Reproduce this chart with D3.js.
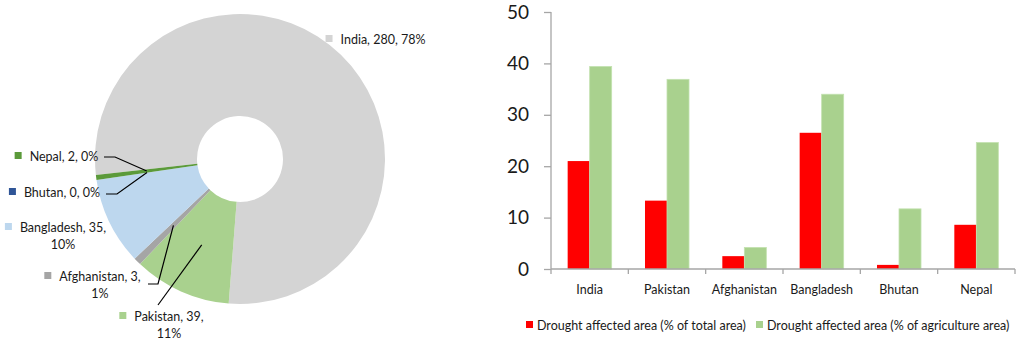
<!DOCTYPE html>
<html>
<head>
<meta charset="utf-8">
<script src="https://cdn.jsdelivr.net/npm/d3@7"></script>
<style>
  body { margin: 0; background: #fff; }
  svg { display: block; font-family: Lato, "Open Sans", sans-serif; }
</style>
</head>
<body>
<div class="container"></div>
<script>
var WIDTH = 1021, HEIGHT = 341;

// donut data
var pieCountries = ["India", "Pakistan", "Afghanistan", "Bangladesh", "Bhutan", "Nepal"];
var pieValues = [280, 39, 3, 35, 0, 2];
var piePercents = ["78%", "11%", "1%", "10%", "0%", "0%"];
var pieColors = ["#d4d4d4", "#a9d18e", "#a5a5a5", "#bdd7ee", "#2f5597", "#5b9a3a"];

// bar data
var barCategories = ["India", "Pakistan", "Afghanistan", "Bangladesh", "Bhutan", "Nepal"];
var totalArea = [21.0, 13.3, 2.5, 26.5, 0.8, 8.6];
var agriArea = [39.4, 36.9, 4.2, 34.0, 11.7, 24.6];
var seriesNames = ["Drought affected area (% of total area)", "Drought affected area (% of agriculture area)"];
var seriesColors = ["#ff0000", "#a9d18e"];
var yTicks = [0, 10, 20, 30, 40, 50];

var svg = d3.select('.container').append('svg')
    .attr('width', WIDTH)
    .attr('height', HEIGHT);

// ---------- donut ----------
var CX = 240, CY = 159, R = 145, R_IN = 43;
var startA = -96.3 * Math.PI / 180;

var pie = d3.pie().sort(null).value(function(d){ return d; })
    .startAngle(startA).endAngle(startA + 2 * Math.PI);
var arcs = pie(pieValues);
var arc = d3.arc().innerRadius(R_IN).outerRadius(R);
var midArc = d3.arc().innerRadius((R + R_IN) / 2).outerRadius((R + R_IN) / 2);

var gPie = svg.append('g').attr('transform', 'translate(' + CX + ',' + CY + ')');
gPie.selectAll('path').data(arcs).enter().append('path')
    .attr('d', arc)
    .attr('fill', function(d, i){ return pieColors[i]; });

// label placement: center x of text block, baseline of first line, line split, leader elbow
var labelLayout = [
  {cx: 383, y: 44, split: false, elbow: null},
  {cx: 169, y: 321, split: true, elbow: [[158, 305]]},
  {cx: 100, y: 281, split: true, elbow: [[148, 284], [158, 284]]},
  {cx: 63, y: 232, split: true, elbow: null},
  {cx: 62, y: 197, split: false, elbow: [[106, 194], [117, 194]]},
  {cx: 64, y: 161, split: false, elbow: [[104, 157], [115, 157]]}
];

var gLab = svg.append('g').attr('font-size', 12.5).attr('fill', '#1a1a1a');
arcs.forEach(function(a, i){
  var L = labelLayout[i];
  var lines = L.split
      ? [pieCountries[i] + ", " + pieValues[i] + ",", piePercents[i]]
      : [pieCountries[i] + ", " + pieValues[i] + ", " + piePercents[i]];
  var t = gLab.append('text').attr('text-anchor', 'middle');
  lines.forEach(function(s, k){
    t.append('tspan').attr('x', L.cx).attr('y', L.y + k * 17).text(s);
  });
  var w = t.select('tspan').node().getComputedTextLength();
  gLab.append('rect')
      .attr('x', L.cx - w / 2 - 15).attr('y', L.y - 9)
      .attr('width', 7).attr('height', 7)
      .attr('fill', pieColors[i]);
  if (L.elbow) {
    var c = midArc.centroid(a);
    var pts = L.elbow.concat([[CX + c[0], CY + c[1]]]);
    svg.append('path')
        .attr('d', d3.line()(pts))
        .attr('fill', 'none')
        .attr('stroke', '#000')
        .attr('stroke-width', 1.2);
  }
});

// ---------- bars ----------
var X0 = 551, X1 = 1015, Y0 = 269, Y1 = 12;

var x0 = d3.scaleBand().domain(barCategories).range([X0, X1]).padding(0);
var x1 = d3.scaleBand().domain([0, 1]).range([0, x0.bandwidth()])
    .paddingInner(0).paddingOuter(0.757);
var y = d3.scaleLinear().domain([0, 50]).range([Y0, Y1]);

var gBar = svg.append('g');
var series = [totalArea, agriArea];
series.forEach(function(vals, s){
  gBar.selectAll('rect.s' + s).data(vals).enter().append('rect')
      .attr('class', 's' + s)
      .attr('x', function(d, i){ return x0(barCategories[i]) + x1(s); })
      .attr('y', function(d){ return y(d); })
      .attr('width', x1.bandwidth())
      .attr('height', function(d){ return Y0 - y(d); })
      .attr('fill', seriesColors[s])
      .attr('stroke', s === 1 ? '#c3e2b0' : 'none')
      .attr('stroke-width', s === 1 ? 0.8 : 0);
});

// y axis
var yAxis = d3.axisLeft(y).tickValues(yTicks).tickSize(7).tickPadding(15);
var gy = svg.append('g').attr('transform', 'translate(' + X0 + ',0)').call(yAxis);
gy.select('.domain').remove();
gy.selectAll('.tick line').attr('stroke', '#a6a6a6').attr('stroke-width', 1.3);
gy.selectAll('.tick text').attr('font-size', 19).attr('font-family', 'Lato, sans-serif').attr('fill', '#1a1a1a');
svg.append('line').attr('x1', X0).attr('x2', X0).attr('y1', Y1).attr('y2', Y0)
    .attr('stroke', '#a6a6a6').attr('stroke-width', 1.3);

// x axis
svg.append('line').attr('x1', X0).attr('x2', X1).attr('y1', Y0).attr('y2', Y0)
    .attr('stroke', '#a6a6a6').attr('stroke-width', 1.3);
var bounds = barCategories.map(function(c){ return x0(c); }).concat([X1]);
svg.selectAll('line.xt').data(bounds).enter().append('line')
    .attr('class', 'xt')
    .attr('x1', function(d){ return d; }).attr('x2', function(d){ return d; })
    .attr('y1', Y0).attr('y2', Y0 + 5)
    .attr('stroke', '#a6a6a6').attr('stroke-width', 1.3);
svg.selectAll('text.xl').data(barCategories).enter().append('text')
    .attr('class', 'xl')
    .attr('x', function(d){ return x0(d) + x0.bandwidth() / 2; })
    .attr('y', 294)
    .attr('text-anchor', 'middle')
    .attr('font-size', 12.5)
    .attr('fill', '#1a1a1a')
    .text(function(d){ return d; });

// legend
var legendX = [526, 756];
seriesNames.forEach(function(n, s){
  svg.append('rect').attr('x', legendX[s]).attr('y', 321).attr('width', 7).attr('height', 7)
      .attr('fill', seriesColors[s]);
  svg.append('text').attr('x', legendX[s] + 11).attr('y', 330)
      .attr('font-size', 12.5).attr('fill', '#1a1a1a').text(n);
});
</script>
</body>
</html>
